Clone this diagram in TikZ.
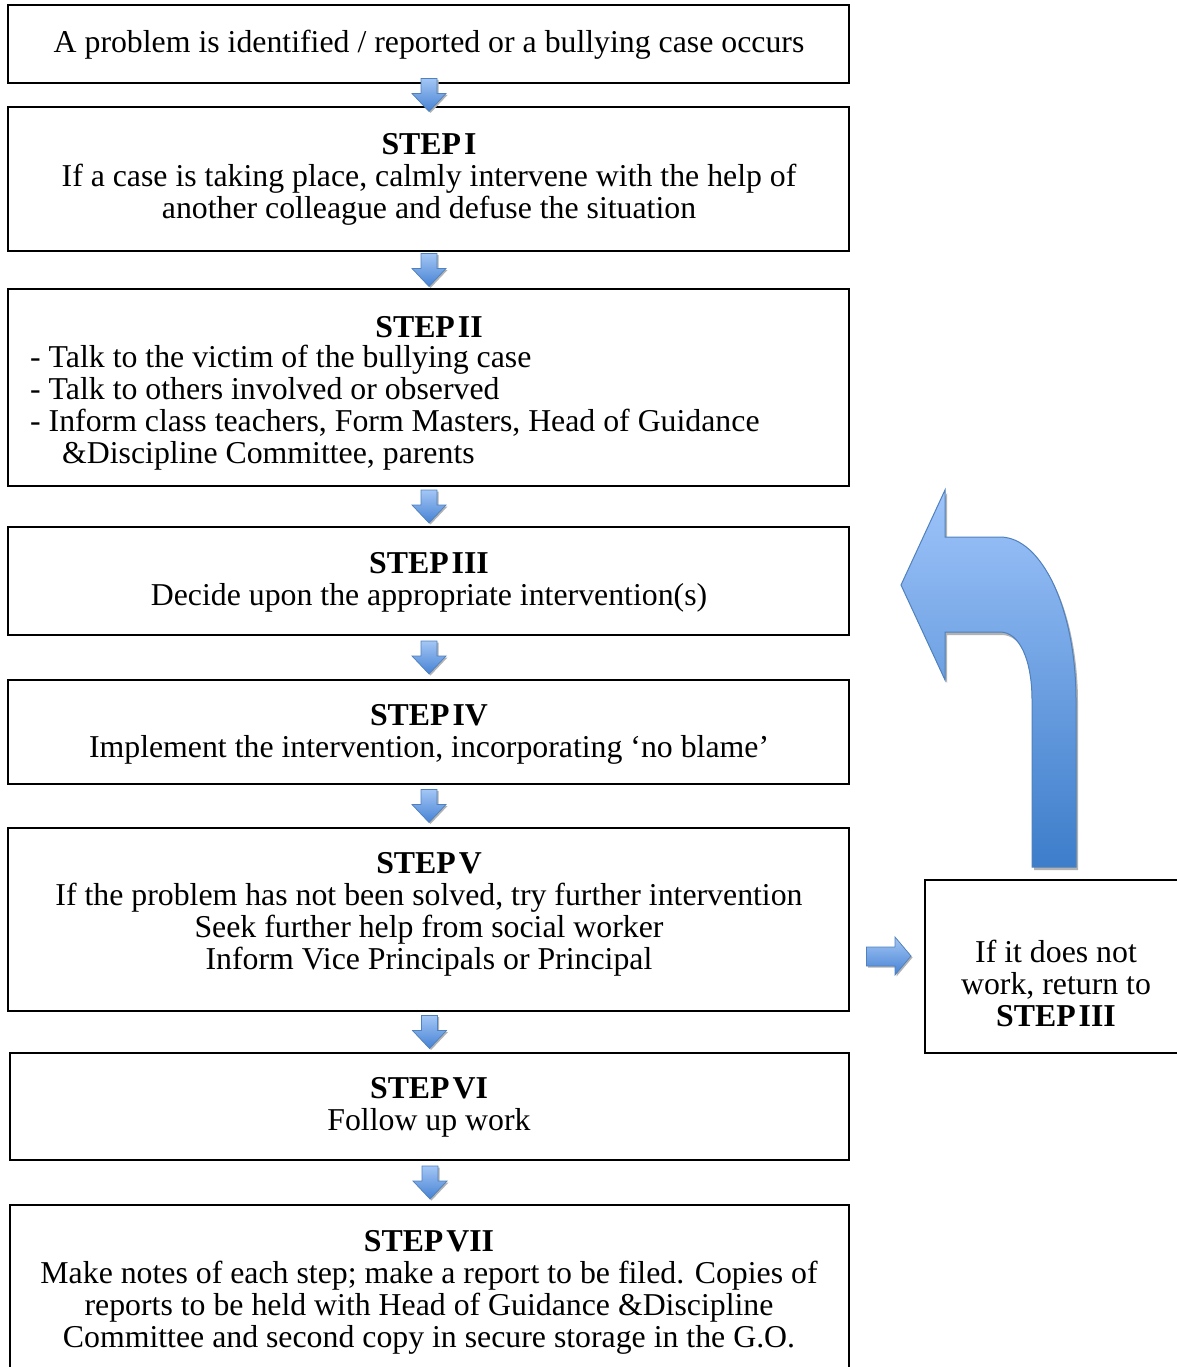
\documentclass[tikz,border=0pt]{standalone}
\usepackage{fontspec}
\setmainfont{Liberation Serif}
\definecolor{arrtop}{HTML}{A3C6F5}
\definecolor{arrbot}{HTML}{4682D4}
\definecolor{arrline}{HTML}{4F81BD}
\definecolor{bigtop}{HTML}{9EC4FA}
\definecolor{bigbot}{HTML}{3D7DCA}
\newcommand{\stp}[1]{\textbf{STEP\hspace{3pt}#1}}
\begin{document}
\begin{tikzpicture}[x=1pt,y=-1pt,
  box/.style={draw, line width=1.6pt, inner sep=0pt},
  mainbox/.style={box, minimum width=841pt},
  txt/.style={align=center, inner sep=0pt, font=\fontsize{31.8}{32}\selectfont},
  txtl/.style={align=left, inner sep=0pt, font=\fontsize{31.8}{32}\selectfont},
  downarr/.pic={
    \fill[black!30] (-6.5,-15) -- (9.5,-15) -- (9.5,0) -- (18.5,0) -- (1.5,18) -- (-15.5,0) -- (-6.5,0) -- cycle;
    \shade[top color=arrtop, bottom color=arrbot, draw=arrline, line width=0.7pt]
      (-8,-16.5) -- (8,-16.5) -- (8,-1.5) -- (17,-1.5) -- (0,16.5) -- (-17,-1.5) -- (-8,-1.5) -- cycle;
  },
  rightarr/.pic={
    \fill[black!30] (-20.5,-7.5) -- (8,-7.5) -- (8,-17.5) -- (24,1.5) -- (8,20.5) -- (8,11.5) -- (-20.5,11.5) -- cycle;
    \shade[top color=arrtop, bottom color=arrbot, draw=arrline, line width=0.7pt]
      (-22,-9) -- (6.5,-9) -- (6.5,-19) -- (22.5,0) -- (6.5,19) -- (6.5,10) -- (-22,10) -- cycle;
  }]
\useasboundingbox[fill=white] (0,0) rectangle (1177,1367);

% boxes
\node[mainbox, minimum height=78pt]  (b0) at (428.5,44) {};
\node[mainbox, minimum height=144pt] (b1) at (428.5,179) {};
\node[mainbox, minimum height=197pt] (b2) at (428.5,387.5) {};
\node[mainbox, minimum height=108pt] (b3) at (428.5,581) {};
\node[mainbox, minimum height=104pt] (b4) at (428.5,732) {};
\node[mainbox, minimum height=183pt] (b5) at (428.5,919.5) {};
\node[box, minimum width=839pt, minimum height=107pt] (b6) at (429.5,1106.5) {};
\node[box, minimum width=839pt, minimum height=195pt] (b7) at (429.5,1302.5) {};
\node[box, minimum width=275pt, minimum height=173pt] (rb) at (1062.5,966.5) {};

% texts
\node[txt] (t0) at (429,45) {A problem is identified / reported or a bullying case occurs};
\node[txt] (t1) at (429,179) {\stp{I}\\If a case is taking place, calmly intervene with the help of\\another colleague and defuse the situation};
\node[txt] (t2h) at (429,327.5) {\stp{II}};
\node[txtl, anchor=west] (t2) at (30,408) {- Talk to the victim of the bullying case\\- Talk to others involved or observed\\- Inform class teachers, Form Masters, Head of Guidance\\\hspace*{32pt}\&Discipline Committee, parents};
\node[txt] (t3) at (429,582.5) {\stp{III}\\Decide upon the appropriate intervention(s)};
\node[txt] (t4) at (429,734.5) {\stp{IV}\\Implement the intervention, incorporating `no blame'};
\node[txt] (t5) at (429,914.5) {\stp{V}\\If the problem has not been solved, try further intervention\\Seek further help from social worker\\Inform Vice Principals or Principal};
\node[txt] (t6) at (429,1107.5) {\stp{VI}\\Follow up work};
\node[txt] (t7) at (429,1292.5) {\stp{VII}\\Make notes of each step; make a report to be filed. Copies of\\reports to be held with Head of Guidance \&Discipline\\Committee and second copy in secure storage in the G.O.};
\node[txt] (tr) at (1056,983) {If it does not\\work, return to\\\stp{III}};

% small down arrows
\path (b0.south) -- (b1.north) coordinate[pos=0.5] (m1);
\path (b1.south) -- (b2.north) coordinate[pos=0.5] (m2);
\path (b2.south) -- (b3.north) coordinate[pos=0.5] (m3);
\path (b3.south) -- (b4.north) coordinate[pos=0.5] (m4);
\path (b4.south) -- (b5.north) coordinate[pos=0.5] (m5);
\path (b5.south) -- (b6.north) coordinate[pos=0.5] (m6);
\path (b6.south) -- (b7.north) coordinate[pos=0.5] (m7);
\foreach \m in {m1,m2,m3,m4,m5,m6,m7} { \pic at ([xshift=0.5pt]\m) {downarr}; }

% right arrow
\coordinate (ra) at (888.5,956);
\pic at (ra) {rightarr};

% big return arrow
\fill[black!30] (1034,870) -- (1034,703) .. controls (1034,664) and (1022,635) .. (1002,635) -- (947,635) -- (947,683)
  -- (903,588) -- (947,493) -- (947,540) -- (1002,540) .. controls (1044,540) and (1078,613) .. (1078,703) -- (1078,870) -- cycle;
\shade[top color=bigtop, bottom color=bigbot, draw=arrline, line width=1pt]
  (1032,867) -- (1032,700) .. controls (1032,661) and (1020,632) .. (1000,632) -- (945,632) -- (945,680)
  -- (901,585) -- (945,490) -- (945,537) -- (1000,537) .. controls (1042,537) and (1076,610) .. (1076,700) -- (1076,867) -- cycle;
\end{tikzpicture}
\end{document}
